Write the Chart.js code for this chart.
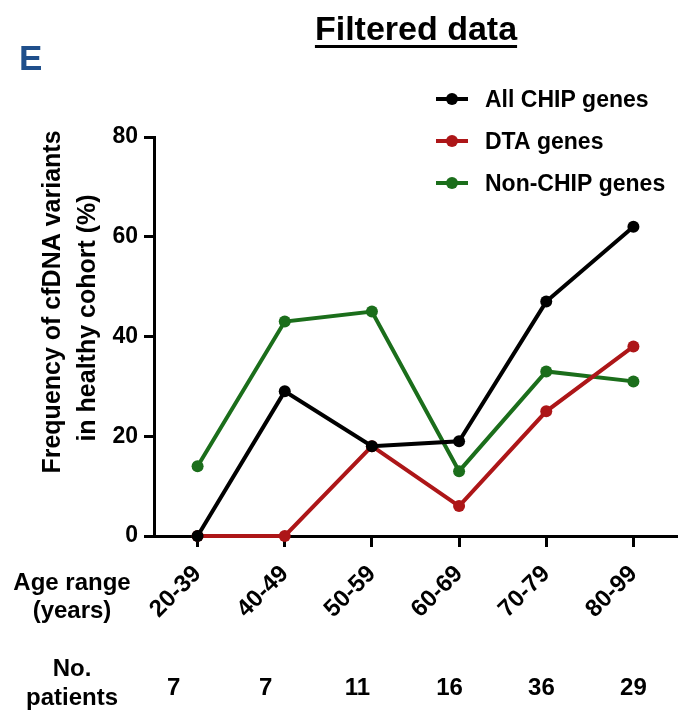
<!DOCTYPE html>
<html>
<head>
<meta charset="utf-8">
<script src="https://cdn.jsdelivr.net/npm/chart.js@4"></script>
<style>
  body { margin: 0; background: #fff; }
  canvas { display: block; }
</style>
</head>
<body>
<canvas id="chart" width="687" height="719"></canvas>
<script>
const ageRanges = ["20-39", "40-49", "50-59", "60-69", "70-79", "80-99"];
const allChip = [0, 29, 18, 19, 47, 62];
const dtaGenes = [0, 0, 18, 6, 25, 38];
const nonChip = [14, 43, 45, 13, 33, 31];
const patients = [7, 7, 11, 16, 36, 29];
const seriesNames = ["All CHIP genes", "DTA genes", "Non-CHIP genes"];
const seriesColors = ["#000000", "#ad1618", "#1b6e1b"];
const yTitle = ["Frequency of cfDNA variants", "in healthy cohort (%)"];

const FONT = "'Liberation Sans', Arial, Helvetica, sans-serif";

const makeSet = (i, data) => ({
  label: seriesNames[i],
  data: data,
  borderColor: seriesColors[i],
  backgroundColor: seriesColors[i],
  borderWidth: 4,
  pointRadius: 6,
  pointBorderWidth: 0,
  tension: 0,
  clip: false,
});

// extra text around the plot: panel letter, title, y title, legend, table rows
const extras = {
  id: "extras",
  afterDraw: (chart) => {
    const ctx = chart.ctx;
    const x = chart.scales.x;
    ctx.save();

    ctx.fillStyle = "#1f4f8b";
    ctx.font = "bold 35px " + FONT;
    ctx.textAlign = "left";
    ctx.textBaseline = "alphabetic";
    ctx.fillText("E", 19, 70);

    ctx.fillStyle = "#000";
    ctx.font = "bold 34px " + FONT;
    ctx.textAlign = "center";
    const title = "Filtered data";
    ctx.fillText(title, 416, 40);
    const tw = ctx.measureText(title).width;
    ctx.fillRect(416 - tw / 2, 45, tw, 3);

    // y axis title, two lines, rotated
    ctx.save();
    ctx.font = "bold 25px " + FONT;
    ctx.textBaseline = "middle";
    ctx.textAlign = "center";
    ctx.translate(53, 302);
    ctx.rotate(-Math.PI / 2);
    ctx.fillText(yTitle[0], 0, 0);
    ctx.fillText(yTitle[1], -16, 35);
    ctx.restore();

    // legend
    const ly = [99, 141, 183];
    ctx.font = "bold 23px " + FONT;
    ctx.textAlign = "left";
    ctx.textBaseline = "middle";
    for (let i = 0; i < seriesNames.length; i++) {
      ctx.strokeStyle = seriesColors[i];
      ctx.fillStyle = seriesColors[i];
      ctx.lineWidth = 4;
      ctx.beginPath();
      ctx.moveTo(436, ly[i]);
      ctx.lineTo(468, ly[i]);
      ctx.stroke();
      ctx.beginPath();
      ctx.arc(452, ly[i], 6, 0, 2 * Math.PI);
      ctx.fill();
      ctx.fillStyle = "#000";
      ctx.fillText(seriesNames[i], 485, ly[i] + 2);
    }

    // row labels
    ctx.font = "bold 24px " + FONT;
    ctx.textAlign = "center";
    ctx.fillText("Age range", 72, 583);
    ctx.fillText("(years)", 72, 611);
    ctx.fillText("No.", 72, 669);
    ctx.fillText("patients", 72, 698);

    const last = x.getPixelForValue(ageRanges.length - 1);
    for (let i = 0; i < patients.length; i++) {
      const px = last + (x.getPixelForValue(i) - last) * 1.055;
      ctx.fillText(String(patients[i]), px, 688);
    }
    ctx.restore();
  },
};

new Chart(document.getElementById("chart"), {
  type: "line",
  data: {
    labels: ageRanges,
    datasets: [makeSet(0, allChip), makeSet(1, dtaGenes), makeSet(2, nonChip)],
  },
  options: {
    responsive: false,
    devicePixelRatio: 1,
    animation: false,
    events: [],
    layout: {
      padding: { left: 0, top: 137, right: 10, bottom: 0 },
    },
    plugins: {
      legend: { display: false },
      tooltip: { enabled: false },
    },
    scales: {
      x: {
        type: "category",
        offset: true,
        afterFit: (s) => {
          s.height = 183;
        },
        border: { display: true, color: "#000", width: 3 },
        grid: {
          drawOnChartArea: false,
          drawTicks: true,
          tickLength: 11,
          tickWidth: 3,
          color: "#000",
          offset: false,
        },
        ticks: {
          autoSkip: false,
          minRotation: 45,
          maxRotation: 45,
          padding: 13,
          color: "#000",
          font: { family: FONT, size: 24, weight: "bold" },
        },
      },
      y: {
        min: 0,
        max: 80,
        afterFit: (s) => {
          s.width = 154;
        },
        border: { display: true, color: "#000", width: 3 },
        grid: {
          drawOnChartArea: false,
          drawTicks: true,
          tickLength: 10,
          tickWidth: 3,
          color: "#000",
        },
        ticks: {
          stepSize: 20,
          padding: 6,
          color: "#000",
          font: { family: FONT, size: 23, weight: "bold" },
        },
      },
    },
  },
  plugins: [extras],
});
</script>
</body>
</html>
